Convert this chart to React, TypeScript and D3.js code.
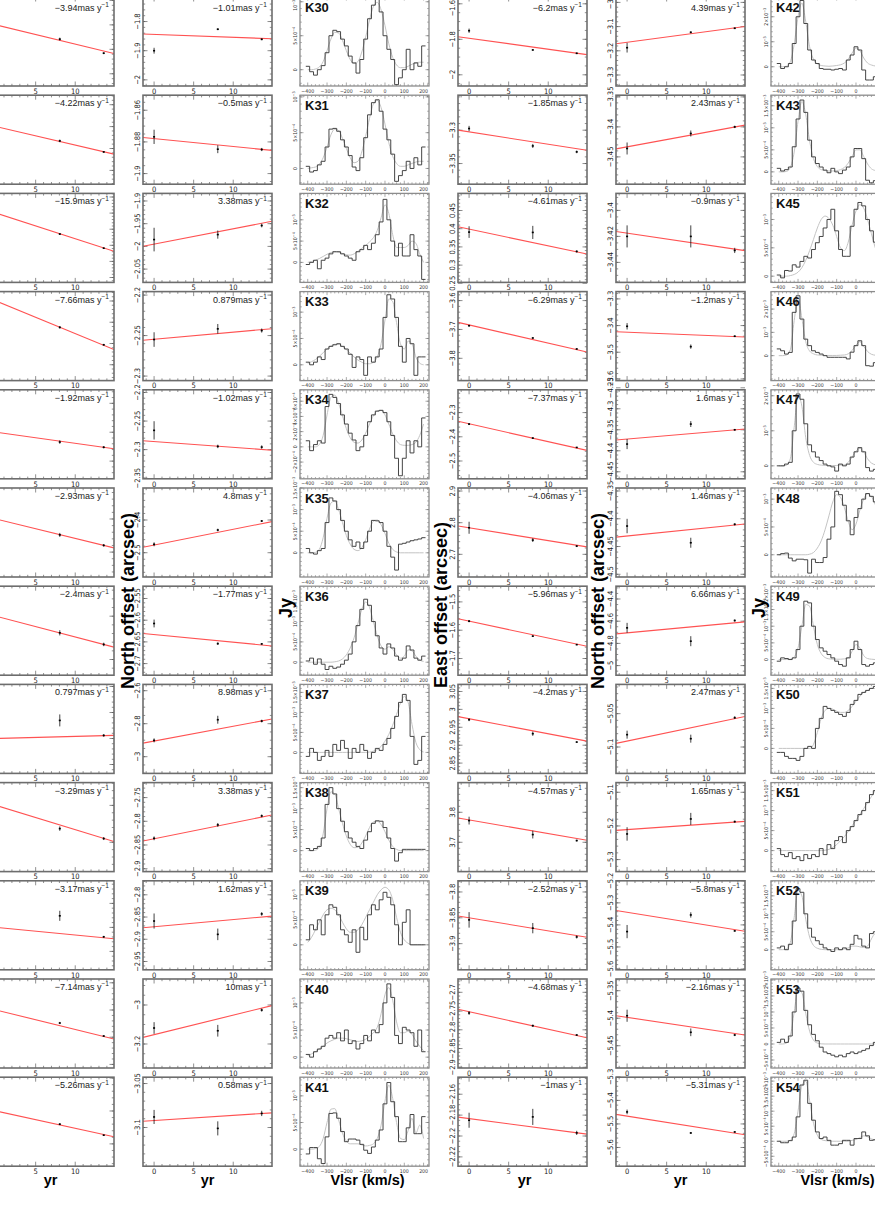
import React from "react";
import * as d3 from "d3";

const W = 875;
const H = 1218;
const PW = 129;
const PH = 89;
const colLeft = [-15, 143, 300, 458, 616, 771];
const rowTop = (i: number) => -3 + 98.2 * i;

const FONT = "'Liberation Sans', Arial, Helvetica, sans-serif";
const NARROW = "'Liberation Sans Narrow', 'DejaVu Sans Condensed', 'Liberation Sans', sans-serif";

// epochs of the three observations (yr)
const years = [0, 8.05, 13.6];
const yearDomain = [-1.4, 14.9];

// ---- East offsets, left column (arcsec) ----
const eastLeftRates = [-3.94, -4.22, -15.9, -7.66, -1.92, -2.93, -2.4, 0.797, -3.29, -3.17, -7.14, -5.26];
const eastLeftDomains = [[1.975, 2.157], [2.2685, 2.4717], [0.4696, 1.0224], [3.0127, 3.2221], [1.5194, 1.6734], [2.4124, 2.5468], [1.7319, 1.8346], [0.1658, 0.5081], [2.1102, 2.2309], [0.9233, 1.2942], [3.1868, 3.514], [2.5322, 2.8027]];
const eastLeftTicks = [[2, 2.05, 2.1, 2.15], [2.3, 2.35, 2.4, 2.45], [0.5, 0.6, 0.7, 0.8, 0.9, 1], [3.05, 3.1, 3.15, 3.2], [1.55, 1.6, 1.65], [2.45, 2.5], [1.75, 1.8], [0.2, 0.3, 0.4, 0.5], [2.15, 2.2], [1, 1.1, 1.2], [3.2, 3.3, 3.4, 3.5], [2.6, 2.7, 2.8]];
const eastLeftPoints = [[2.1, 2.0708, 2.0421], [2.4, 2.3674, 2.3422], [0.9, 0.77, 0.682], [3.2, 3.138, 3.097], [1.6, 1.583, 1.574], [2.5, 2.476, 2.4602], [1.8, 1.7808, 1.7674], [0.3, 0.3696, 0.3119], [2.2, 2.1685, 2.155], [1.1, 1.1483, 1.0608], [3.4, 3.3522, 3.3044], [2.7, 2.6599, 2.6264]];
const eastLeftErrors = [[0.004, 0.003, 0.002], [0.004, 0.003, 0.002], [0.01, 0.006, 0.005], [0.004, 0.003, 0.002], [0.004, 0.003, 0.002], [0.004, 0.003, 0.002], [0.003, 0.003, 0.002], [0.01, 0.023, 0.005], [0.003, 0.003, 0.002], [0.01, 0.021, 0.004], [0.005, 0.004, 0.003], [0.004, 0.003, 0.002]];
const eastLeftIntercepts = [2.1, 2.4, 0.9, 3.2, 1.6, 2.5, 1.8, 0.3, 2.2, 1.1, 3.4, 2.7];

// ---- North offsets, left column (arcsec) ----
const northLeftRates = [-1.01, -0.5, 3.38, 0.879, -1.02, 4.8, -1.77, 8.98, 3.38, 1.62, 10, 0.58];
const northLeftDomains = [[-2.0211, -1.7158], [-1.9067, -1.8505], [-2.0793, -1.8833], [-2.3056, -2.1957], [-2.3511, -2.1953], [-2.5743, -2.3021], [-2.7267, -2.5217], [-3.1012, -2.5618], [-2.9061, -2.7184], [-2.9687, -2.7685], [-3.3231, -2.8667], [-3.144, -3.0428]];
const northLeftTicks = [[-2, -1.9, -1.8], [-1.9, -1.88, -1.86], [-2.05, -2, -1.95, -1.9], [-2.3, -2.25, -2.2], [-2.35, -2.3, -2.25, -2.2], [-2.5, -2.4], [-2.7, -2.65, -2.6, -2.55], [-3, -2.8, -2.6], [-2.9, -2.85, -2.8, -2.75], [-2.95, -2.9, -2.85, -2.8], [-3.2, -3], [-3.1, -3.05]];
const northLeftPoints = [[-1.9, -1.8264, -1.861], [-1.8768, -1.8846, -1.8848], [-1.985, -1.974, -1.954], [-2.2549, -2.2417, -2.2438], [-2.2663, -2.2944, -2.2956], [-2.4743, -2.4306, -2.403], [-2.6076, -2.654, -2.6546], [-2.901, -2.776, -2.784], [-2.8359, -2.8076, -2.7886], [-2.859, -2.889, -2.843], [-3.118, -3.132, -3.026], [-3.088, -3.101, -3.084]];
const northLeftErrors = [[0.01, 0.003, 0.003], [0.0045, 0.0025, 0.001], [0.026, 0.009, 0.004], [0.009, 0.006, 0.0025], [0.016, 0.003, 0.003], [0.006, 0.004, 0.003], [0.009, 0.003, 0.002], [0.012, 0.024, 0.008], [0.004, 0.004, 0.003], [0.017, 0.013, 0.004], [0.03, 0.03, 0.008], [0.008, 0.008, 0.003]];
const northLeftIntercepts = [-1.844, -1.8779, -1.995, -2.2546, -2.2858, -2.4765, -2.633, -2.905, -2.837, -2.872, -3.152, -3.092];

// ---- East offsets, right column (arcsec) ----
const eastRightRates = [-6.2, -1.85, -4.61, -6.29, -7.37, -4.06, -5.96, -4.2, -4.57, -2.52, -4.68, -1];
const eastRightDomains = [[-2.0631, -1.5617], [-3.381, -3.2475], [0.2525, 0.497], [-3.8773, -3.5688], [-2.5736, -2.2058], [2.6284, 2.9096], [-1.759, -1.4445], [2.8212, 3.0698], [3.6023, 3.899], [-3.9506, -3.7784], [-2.9019, -2.6645], [-2.2289, -2.1437]];
const eastRightTicks = [[-2, -1.8, -1.6], [-3.35, -3.3], [0.25, 0.3, 0.35, 0.4, 0.45], [-3.8, -3.7, -3.6], [-2.5, -2.4, -2.3], [2.7, 2.8, 2.9], [-1.7, -1.6, -1.5], [2.85, 2.9, 2.95, 3, 3.05], [3.7, 3.8], [-3.9, -3.85, -3.8], [-2.9, -2.85, -2.8, -2.75, -2.7], [-2.22, -2.2, -2.18, -2.16]];
const eastRightPoints = [[-1.7516, -1.86, -1.879], [-3.2975, -3.3236, -3.3325], [0.3907, 0.3898, 0.3376], [-3.687, -3.7296, -3.7676], [-2.3475, -2.4054, -2.444], [2.784, 2.745, 2.726], [-1.568, -1.621, -1.651], [2.9712, 2.9321, 2.9087], [3.7723, 3.7257, 3.7057], [-3.854, -3.87, -3.887], [-2.7552, -2.7891, -2.8139], [-2.1849, -2.1817, -2.197]];
const eastRightErrors = [[0.012, 0.004, 0.004], [0.004, 0.003, 0.002], [0.016, 0.018, 0.003], [0.003, 0.003, 0.002], [0.004, 0.003, 0.002], [0.019, 0.006, 0.003], [0.004, 0.003, 0.002], [0.004, 0.006, 0.002], [0.013, 0.013, 0.003], [0.015, 0.01, 0.003], [0.005, 0.003, 0.002], [0.0072, 0.0077, 0.002]];
const eastRightIntercepts = [-1.794, -3.3025, 0.399, -3.6844, -2.3463, 2.784, -1.568, 2.974, 3.7747, -3.85, -2.7517, -2.1833];

// ---- North offsets, right column (arcsec) ----
const northRightRates = [4.39, 2.43, -0.9, -1.2, 1.6, 1.46, 6.66, 2.47, 1.65, -5.8, -2.16, -5.31];
const northRightDomains = [[-3.3455, -2.9777], [-3.4955, -3.3472], [-3.4554, -3.3869], [-3.6064, -3.2726], [-4.4667, -4.2548], [-4.5049, -4.3446], [-5.0865, -4.2847], [-5.1396, -5.0061], [-5.3357, -5.0712], [-5.6036, -5.2], [-5.4905, -5.3287], [-5.6796, -5.3013]];
const northRightTicks = [[-3.3, -3.2, -3.1, -3], [-3.45, -3.4, -3.35], [-3.44, -3.42, -3.4], [-3.6, -3.5, -3.4, -3.3], [-4.45, -4.4, -4.35, -4.3, -4.25], [-4.5, -4.45, -4.4, -4.35], [-5, -4.8, -4.6, -4.4], [-5.1, -5.05], [-5.3, -5.2, -5.1], [-5.6, -5.5, -5.4, -5.3, -5.2], [-5.45, -5.4, -5.35], [-5.6, -5.5, -5.4, -5.3]];
const northRightPoints = [[-3.1872, -3.1236, -3.107], [-3.436, -3.411, -3.4], [-3.42, -3.42, -3.4308], [-3.4027, -3.479, -3.44], [-4.384, -4.3364, -4.35], [-4.4131, -4.4432, -4.41], [-4.66, -4.78, -4.594], [-5.0815, -5.0875, -5.056], [-5.2238, -5.1792, -5.1872], [-5.4303, -5.3548, -5.4271], [-5.3955, -5.4256, -5.4305], [-5.4489, -5.5383, -5.534]];
const northRightErrors = [[0.02, 0.004, 0.003], [0.01, 0.005, 0.002], [0.0085, 0.0085, 0.002], [0.012, 0.008, 0.003], [0.012, 0.007, 0.002], [0.013, 0.009, 0.002], [0.045, 0.045, 0.01], [0.006, 0.006, 0.002], [0.02, 0.018, 0.003], [0.03, 0.012, 0.003], [0.011, 0.007, 0.002], [0.01, 0.004, 0.003]];
const northRightIntercepts = [-3.1649, -3.4333, -3.4175, -3.425, -4.3721, -4.4311, -4.705, -5.0911, -5.211, -5.3425, -5.3984, -5.4668];

// ---- spectra: channel velocities (km/s), flux in units of 1e-4 Jy ----
const vlsr = [-400, -380, -360, -340, -320, -300, -280, -260, -240, -220, -200, -180, -160, -140, -120, -100, -80, -60, -40, -20, 0, 20, 40, 60, 80, 100, 120, 140, 160, 180, 200];
const vlsrDomain = [-440, 228];
const vlsrTicks = [-400, -300, -200, -100, 0, 100, 200];

const specLeftNames = ["K30", "K31", "K32", "K33", "K34", "K35", "K36", "K37", "K38", "K39", "K40", "K41"];
const specLeftDomains = [[-2.4, 10.7], [-2.2, 10.24], [-4.7, 16.2], [-3.0, 13.9], [-4.2, 7.5], [-5.6, 15], [-3.2, 18.7], [-5.25, 17], [-5, 16.2], [-5, 12.8], [-2.0, 14.4], [-3.2, 13.5]];
const specLeftTicks = [[0, 5, 10], [0, 5, 10], [0, 5, 10], [0, 5, 10], [-2, 0, 2, 4, 6], [0, 5, 10, 15], [0, 5, 10, 15], [0, 5, 10, 15], [0, 5, 10, 15], [0, 5, 10], [0, 5, 10], [0, 5, 10]];
const specLeftHist = [
  [0.5, -0.3, -0.8, 0, 0.6, 2.5, 5.0, 5.8, 5.6, 4.5, 3.5, 2.0, 1.0, -0.5, 1.5, 4.5, 7.5, 9.5, 10.5, 8.5, 5.0, 3.0, 1.5, -2.2, -1.2, 0.0, 3.0, 0.0, 1.0, 0.5, 3.5],
  [0.3, -0.5, -0.3, 0.5, 1.0, 3.0, 5.5, 5.6, 5.2, 4.0, 3.0, 1.8, 0.2, -0.3, 1.5, 4.3, 7.5, 9.2, 9.6, 8.0, 5.5, 4.0, 2.0, -1.8, -1.0, -0.3, 1.0, 0.0, 1.5, 0.5, 3.0],
  [-0.5, 0, 0.5, -1.5, 0.5, 1.0, 2.0, 2.5, 2.5, 2.0, 1.5, 1.0, 0.5, 2.5, 3.0, 4.0, 3.0, 4.5, 6.5, 9.5, 14.8, 10.0, 5.0, 1.5, 4.5, 1.5, 1.5, 6.5, 3.0, 1.5, -4.0],
  [0.5, 0, 0.5, 1.5, 1.0, 3.0, 3.5, 3.8, 4.0, 3.5, 3.0, 2.0, -0.5, 1.5, 1.0, -2.0, 1.5, 0.5, 1.5, 3.0, 9.0, 13.3, 12.5, 9.0, 3.5, 0.5, 5.0, 4.0, -2.0, 1.5, 1.5],
  [0.8, -0.5, 0.3, 0.8, 0.5, 5.3, 6.9, 6.5, 5.7, 4.2, 3.0, 1.8, 0.9, -0.5, 0.0, 1.5, 3.3, 4.2, 4.7, 4.8, 4.5, 3.3, 1.5, -1.5, -3.8, -1.5, 0.8, -0.8, 0.8, 0.0, 3.8],
  [1.0, 0, -0.3, 0.5, 1.0, 7.0, 12.7, 12.0, 10.0, 7.5, 5.0, 3.0, 1.5, 2.5, 1.0, 2.5, 5.0, 7.5, 7.4, 7.0, 5.0, 1.5, -1.0, -4.0, 2.0, 2.2, 2.5, 2.8, 3.0, 3.2, 3.5],
  [0.3, 1.0, -0.5, 0.8, -0.5, -1.8, -1.0, -1.5, -1.2, -0.5, 0.5, 2.0, 5.0, 9.0, 13.0, 15.5, 14.0, 10.0, 6.5, 3.5, 2.0, 4.5, 3.5, 1.5, 0.5, 1.0, 4.0, 3.0, 1.0, 0.5, 1.5],
  [-1.0, 1.0, 0, -2.0, -1.0, 0.5, -1.0, 2.0, 0.5, 3.0, 1.0, -1.5, 1.0, 0, 2.0, 0.5, -1.5, 0, 1.0, 0.5, 2.0, 3.5, 6.0, 9.0, 12.5, 14.5, 13.0, 4.0, -3.0, -2.0, 4.0],
  [0.5, 0, 0.5, 1.0, 3.0, 11.0, 15.0, 13.5, 10.0, 7.0, 4.5, 3.0, 2.0, 1.0, 0.5, 2.5, 4.5, 6.5, 7.1, 7.0, 5.5, 3.0, 0.5, -2.5, -0.5, 0.3, 0.3, 0.3, 0.3, 0.3, 0.3],
  [1.0, 4.0, 3.0, 5.0, 2.0, 6.0, 8.0, 7.5, 6.0, 3.0, 2.0, 0.5, 3.0, -1.5, 3.5, 1.0, 6.0, 8.0, 7.0, 9.0, 10.5, 9.5, 8.0, 4.0, 0, 4.5, 7.0, 0.0, 0.0, 0.0, 0.0],
  [0.5, 0.0, 1.0, 1.5, 2.0, 3.5, 4.0, 3.5, 4.5, 3.0, 5.0, 2.5, 3.0, 1.5, 2.5, 4.0, 3.0, 5.0, 4.5, 6.0, 10.0, 13.5, 11.0, 4.0, 2.5, 5.5, 5.0, 4.5, 2.0, 5.0, 1.0],
  [-0.9, 0.3, 0.3, -1.8, -2.7, 2.3, 6.7, 6.8, 5.8, 3.3, 1.4, 1.9, 1.9, 1.7, 0.9, -0.2, -0.8, 0.4, 1.7, 3.6, 8.5, 12.5, 8.9, 6.1, 1.4, 1.4, 4.0, 6.5, 2.9, 2.9, 6.1],
];
const specLeftFit = [
  [0, 0, 0.1, 0.4, 1.2, 2.8, 4.5, 5.5, 5.4, 4.3, 2.8, 1.5, 0.9, 1.2, 2.6, 4.8, 7.3, 9.3, 9.9, 8.8, 6.5, 3.8, 1.8, 0.7, 0.3, 0.3, 0.5, 0.8, 1.0, 1.1, 1.1],
  [0, 0.1, 0.2, 0.6, 1.5, 3.0, 4.7, 5.5, 5.3, 4.2, 2.8, 1.5, 0.8, 1.0, 2.3, 4.5, 7.0, 9.0, 9.5, 8.5, 6.2, 3.6, 1.7, 0.7, 0.3, 0.3, 0.5, 0.7, 0.9, 1.0, 1.0],
  [0, 0.2, 0.5, 0.9, 1.4, 1.9, 2.3, 2.5, 2.4, 2.1, 1.8, 1.7, 2.0, 2.6, 3.3, 4.0, 4.8, 5.8, 7.5, 10.5, 13.5, 11.5, 6.5, 3.5, 3.5, 3.5, 4.0, 5.0, 4.5, 2.0, 0.0],
  [0.3, 0.6, 1.0, 1.6, 2.3, 3.0, 3.6, 3.9, 3.9, 3.5, 2.9, 2.2, 1.5, 0.9, 0.5, 0.2, 0.2, 0.5, 1.5, 4.0, 8.5, 12.5, 12.0, 8.0, 4.0, 3.0, 4.5, 4.0, 1.5, 0.3, 0],
  [0, 0, 0, 0.3, 1.5, 4.2, 6.5, 6.8, 5.7, 4.1, 2.4, 1.2, 0.6, 0.5, 0.9, 1.8, 3.0, 4.1, 4.7, 4.8, 4.2, 3.0, 1.7, 0.8, 0.3, 0.2, 0.2, 0.3, 0.6, 1.5, 3.0],
  [0, 0, 0.1, 0.8, 3.5, 8.0, 11.5, 12.0, 10.0, 7.0, 4.0, 2.0, 0.8, 0.5, 1.2, 3.0, 5.5, 7.3, 7.6, 6.5, 4.5, 2.2, 0.8, 0.2, 0, 0, 0, 0, 0, 0, 0],
  [0, 0, 0, 0, 0, 0, 0, 0.1, 0.3, 0.8, 1.8, 3.5, 6.0, 9.5, 13.0, 14.8, 13.5, 10.0, 6.5, 4.0, 3.2, 3.8, 3.2, 1.8, 1.0, 1.5, 3.0, 2.8, 1.5, 0.5, 0.2],
  [0, 0, 0, 0, 0, 0, 0, 0, 0, 0, 0, 0, 0, 0, 0, 0, 0.1, 0.3, 0.7, 1.5, 2.8, 4.5, 6.8, 9.5, 12.3, 14.0, 12.5, 7.0, 2.5, 0.7, 0.1],
  [0, 0, 0.1, 0.8, 4.0, 10.0, 14.0, 13.5, 10.0, 6.5, 3.5, 1.5, 0.7, 0.8, 1.8, 3.5, 5.5, 6.8, 7.0, 6.2, 4.5, 2.5, 1.0, 0.3, 0, 0, 0, 0, 0, 0, 0],
  [0.5, 1.5, 3.0, 4.5, 6.0, 7.0, 7.3, 7.0, 6.0, 4.5, 3.2, 2.5, 2.5, 3.0, 4.0, 5.5, 7.0, 8.5, 10.0, 11.0, 11.5, 11.0, 9.0, 5.5, 2.5, 1.0, 0.3, 0, 0, 0, 0],
  [0.3, 0.6, 1.0, 1.5, 2.0, 2.6, 3.0, 3.3, 3.5, 3.5, 3.4, 3.2, 3.0, 2.9, 3.0, 3.3, 3.8, 4.5, 5.5, 8.0, 11.5, 12.8, 10.5, 6.5, 4.5, 4.5, 4.8, 4.2, 3.0, 2.0, 1.2],
  [0, 0, 0.1, 0.5, 2.0, 5.0, 7.5, 7.6, 5.5, 3.0, 1.5, 1.0, 1.0, 1.0, 0.8, 0.6, 0.7, 1.0, 2.0, 4.5, 9.0, 12.0, 9.5, 5.0, 2.0, 1.8, 3.5, 5.8, 3.0, 4.5, 2.0],
];

const specRightNames = ["K42", "K43", "K45", "K46", "K47", "K48", "K49", "K50", "K51", "K52", "K53", "K54"];
const specRightDomains = [[-7.7, 27.9], [-2.8, 17.4], [-1.1, 14.6], [-10.7, 27.5], [-3.7, 21.7], [-4, 12], [-4.7, 22], [-6.25, 16], [-5.25, 17], [-5.6, 19.2], [-7.5, 20.3], [-8.3, 21.3]];
const specRightTicks = [[0, 10, 20], [0, 5, 10, 15], [0, 5, 10], [0, 10, 20], [0, 10, 20], [0, 5, 10], [0, 5, 10, 15, 20], [0, 5, 10, 15], [0, 5, 10, 15], [0, 5, 10, 15], [-5, 0, 5, 10, 15, 20], [-5, 0, 5, 10, 15, 20]];
const specRightHist = [
  [1.3, -0.7, 0, 1.3, 9.3, 20, 26.5, 17.3, 6.7, 2.7, 1.3, -0.7, -1.0, -1.0, -1.3, -1.0, -0.7, -1.3, 2.7, 4.7, 8.0, 6.7, -1.3, -5.3, -5.3, -4.0, -3.0, -2.0, -1.0, 0.0, 0.5],
  [0.8, 0.2, 0.5, 1.1, 5.7, 12.0, 16.3, 13.5, 7.2, 3.4, 1.9, 1.1, 0.4, -0.2, 0.8, 0.0, -0.4, 0.4, 1.1, 3.4, 5.3, 5.3, 3.0, -1.9, -2.5, -2.0, -1.5, -1.0, -0.5, 0.0, 0.3],
  [0.2, -0.3, 1.0, 0.9, 2.0, 1.6, 2.6, 3.5, 3.2, 4.7, 5.9, 7.0, 8.5, 10.0, 11.8, 8.0, 4.7, 3.5, 3.5, 8.8, 11.8, 13.0, 12.4, 10.0, 8.0, 6.0, 4.0, 3.0, 2.0, 1.5, 1.0],
  [2.9, 2.1, 0.7, 1.4, 18.6, 25.7, 15.7, 7.1, 4.3, 2.1, 1.4, 0.7, 0.0, -0.7, -0.7, -0.7, -0.7, -0.7, -1.4, 1.5, 4.3, 6.4, 4.3, -4.3, -4.5, -3.0, -2.0, -1.0, 0.0, 0.5, 0.0],
  [0, 0, 0.5, 1.0, 10.0, 20.5, 19.0, 12.0, 6.0, 4.0, 2.5, 1.5, 0.5, 0.0, -0.3, -1.5, 0.5, 0.0, 0.5, 2.5, 4.0, 5.2, 4.0, -0.5, -1.5, -1.0, -0.5, 0, 0, 0, 0],
  [0, 0.2, 0.3, -0.6, -1.1, -0.8, -0.8, -0.9, -3.3, -0.8, -1.4, -1.4, -0.5, 2.8, 5.0, 11.4, 10.8, 8.9, 6.1, 3.6, 6.7, 8.3, 10.0, 11.0, 10.5, 9.5, 8.0, 6.0, 4.0, 2.0, 1.0],
  [-0.5, 0.5, 0.3, 0.0, 0.5, 3.0, 10.0, 17.5, 17.0, 10.0, 6.0, 3.5, 2.5, 1.5, 0.5, -0.5, -1.5, -2.0, 0.5, 3.0, 5.5, 3.0, -1.5, -2.0, -1.5, -1.0, 0, 0, 0, 0, 0],
  [-1.0, -1.0, -2.0, -2.5, -2.5, -3.0, -2.0, 0, 0.5, 0, 5.0, 7.5, 10.5, 10.0, 9.5, 9.0, 8.5, 8.0, 9.0, 11.0, 12.0, 13.5, 14.0, 14.5, 15.0, 15.5, 15.0, 14.0, 13.0, 12.0, 11.0],
  [0.5, -1.0, -1.5, -0.5, -2.0, -1.5, -2.5, -1.0, -2.0, -1.0, -1.5, 0.5, -1.0, 1.5, 0.5, 2.5, 3.5, 2.0, 5.0, 6.0, 7.5, 9.0, 10.0, 12.0, 14.0, 15.0, 15.5, 15.0, 14.0, 13.0, 12.0],
  [0.5, 1.0, 0.0, 1.5, 8.0, 17.0, 16.0, 10.0, 6.0, 3.5, 2.5, 1.5, 0.5, 0.0, -0.5, 0.5, 0.0, 0.5, 0.0, 1.5, 4.0, 3.0, 1.0, 0.5, 4.5, 5.0, 4.0, 3.0, 2.0, 1.0, 0.5],
  [0.5, 1.5, 0.5, 2.5, 10.0, 17.5, 16.5, 10.5, 6.0, 3.0, 1.0, -1.0, -2.5, -3.0, -3.5, -4.0, -3.5, -4.0, -3.0, -2.5, -3.0, -2.5, -2.0, -1.5, -0.5, 0.5, 0.5, 0, 0, 0, 0],
  [0, -0.5, -0.5, 0.2, 1.4, 8.1, 18.7, 20.3, 12.6, 7.0, 3.1, 0.9, 1.4, 0.3, -1.3, -1.3, -0.8, 0.3, 0.3, -1.3, 0.9, 0.9, 3.1, 1.8, 0.3, 0.5, 0, 0, 0, 0, 0],
];
const specRightFit = [
  [0, 0, 0.2, 2.0, 9.0, 20, 25.5, 18, 8, 3, 1.2, 0.5, 0.3, 0.2, 0.3, 0.5, 0.8, 1.5, 3.0, 5.5, 7.5, 6.5, 3.5, 1.5, 0.7, 0.3, 0.1, 0, 0, 0, 0],
  [0, 0, 0.1, 1.0, 4.5, 11.5, 16.0, 13.0, 7.0, 3.0, 1.2, 0.5, 0.3, 0.2, 0.2, 0.3, 0.5, 1.0, 2.0, 3.5, 5.0, 5.0, 3.5, 1.8, 0.7, 0.3, 0.1, 0, 0, 0, 0],
  [0, 0, 0, 0.1, 0.3, 0.7, 1.5, 2.8, 4.5, 6.5, 8.5, 10.0, 10.6, 10.2, 9.0, 7.0, 5.0, 4.5, 6.0, 9.0, 11.5, 12.6, 12.0, 10.0, 7.5, 5.0, 3.0, 1.5, 0.7, 0.3, 0.1],
  [0, 0, 0.3, 2.5, 15.0, 25.0, 16.0, 6.0, 2.0, 0.8, 0.3, 0.2, 0.1, 0.1, 0.1, 0.1, 0.2, 0.3, 0.8, 2.2, 4.5, 6.0, 4.0, 1.8, 0.6, 0.2, 0, 0, 0, 0, 0],
  [0, 0, 0.2, 2.0, 11.0, 20.0, 17.0, 8.0, 3.0, 1.0, 0.4, 0.2, 0.1, 0.1, 0.1, 0.1, 0.2, 0.3, 1.0, 2.5, 4.2, 5.0, 4.0, 2.0, 0.8, 0.3, 0.1, 0, 0, 0, 0],
  [0, 0, 0, 0, 0, 0, 0, 0, 0.1, 0.4, 1.2, 2.5, 4.5, 7.0, 9.5, 10.8, 10.3, 8.5, 6.0, 4.5, 5.5, 8.0, 10.0, 11.0, 10.5, 9.0, 7.0, 5.0, 3.0, 1.5, 0.7],
  [0, 0, 0, 0.1, 0.8, 3.5, 10.0, 16.5, 16.0, 10.0, 4.5, 1.8, 0.6, 0.2, 0.1, 0.1, 0.1, 0.2, 0.5, 2.5, 4.5, 3.5, 1.2, 0.3, 0.1, 0, 0, 0, 0, 0, 0],
  [0, 0, 0, 0, 0, 0, 0, 0, 0, 1.0, 4.0, 7.5, 9.5, 10.0, 9.8, 9.3, 9.0, 9.0, 9.5, 10.5, 11.8, 13.0, 14.0, 14.5, 15.0, 15.0, 14.5, 13.5, 12.5, 11.5, 10.5],
  [0, 0, 0, 0, 0, 0, 0, 0, 0, 0, 0, 0, 0.1, 0.3, 0.8, 1.5, 2.5, 3.5, 4.8, 6.2, 7.6, 9.0, 10.5, 12.0, 13.5, 15.0, 15.5, 15.0, 14.0, 13.0, 12.0],
  [0, 0, 0.2, 2.0, 9.0, 16.5, 15.0, 8.5, 3.5, 1.2, 0.4, 0.1, 0, 0, 0, 0, 0, 0.2, 0.5, 1.0, 1.0, 0.8, 0.6, 1.0, 3.0, 4.5, 4.0, 2.5, 1.2, 0.5, 0.2],
  [0, 0, 0.3, 2.5, 10.0, 17.0, 16.0, 9.5, 4.0, 1.2, 0.3, 0.05, 0, 0, 0, 0, 0, 0, 0, 0, 0, 0, 0, 0, 0, 0, 0, 0, 0, 0, 0],
  [0, 0, 0, 0.3, 2.5, 10.0, 18.5, 20.0, 13.5, 6.0, 2.0, 0.6, 0.2, 0.1, 0, 0, 0, 0, 0, 0.3, 0.6, 1.2, 1.8, 1.5, 0.8, 0.3, 0, 0, 0, 0, 0],
];

const minus = (s: string) => s.replace("-", "\u2212");

function minorStep(ticks: number[], domain: number[]) {
  const s = [...ticks].sort((a, b) => a - b);
  const step = s.length > 1 ? s[1] - s[0] : (domain[1] - domain[0]) / 4;
  const mag = Math.pow(10, Math.floor(Math.log10(step) + 1e-9));
  const lead = Math.round(step / mag);
  return step / (lead === 2 ? 4 : 5);
}

function minorTicks(domain: number[], sub: number) {
  return d3
    .range(Math.ceil(domain[0] / sub - 1e-6), Math.floor(domain[1] / sub + 1e-6) + 1)
    .map((i) => i * sub);
}

// a label is drawn only if it fits inside the page
const onPage = (px: number, half: number) => px - half >= 0 && px + half <= W;
// keep a rotated label's centre far enough from the top/bottom page edges
const keepIn = (py: number, half: number) => Math.min(Math.max(py, half + 0.5), H - half - 0.5);

function TimePanel({ id, left, top, domain, ticks, pts, errs, intercept, rate }: any) {
  const x = d3.scaleLinear().domain(yearDomain).range([left, left + PW]);
  const y = d3.scaleLinear().domain(domain).range([top + PH, top]);
  const sub = minorStep(ticks, domain);
  const minY = minorTicks(domain, sub);
  const minX = d3.range(-1, 15);
  const majX = [0, 5, 10];
  const fit = d3
    .line<number>()
    .x((t) => x(t))
    .y((t) => y(intercept + (rate / 1000) * t));
  const rateText = (rate < 0 ? "\u2212" : "") + String(Math.abs(rate)) + "mas y";
  const tc = "#444";
  const showY = left - 8 >= 0;
  return (
    <g>
      <defs>
        <clipPath id={id}>
          <rect x={left} y={top} width={PW} height={PH} />
        </clipPath>
      </defs>
      <rect x={left} y={top} width={PW} height={PH} fill="#fff" />
      <g stroke={tc} strokeWidth={0.6}>
        {minX.map((t) => {
          const L = majX.includes(t) ? 4.5 : 2.2;
          return (
            <g key={"x" + t}>
              <line x1={x(t)} x2={x(t)} y1={top + PH} y2={top + PH - L} />
              <line x1={x(t)} x2={x(t)} y1={top} y2={top + L} />
            </g>
          );
        })}
        {minY.map((v, i) => (
          <g key={"ym" + i}>
            <line x1={left} x2={left + 2.2} y1={y(v)} y2={y(v)} />
            <line x1={left + PW} x2={left + PW - 2.2} y1={y(v)} y2={y(v)} />
          </g>
        ))}
        {ticks.map((v: number, i: number) => (
          <g key={"yM" + i}>
            <line x1={left} x2={left + 4.5} y1={y(v)} y2={y(v)} />
            <line x1={left + PW} x2={left + PW - 4.5} y1={y(v)} y2={y(v)} />
          </g>
        ))}
      </g>
      <g clipPath={`url(#${id})`}>
        <path d={fit(yearDomain) || ""} fill="none" stroke="#ff5252" strokeWidth={1.1} />
        {years.map((t, i) => (
          <g key={"p" + i}>
            <line x1={x(t)} x2={x(t)} y1={y(pts[i] - errs[i])} y2={y(pts[i] + errs[i])} stroke="#111" strokeWidth={0.8} />
            <rect x={x(t) - 1} y={y(pts[i]) - 0.8} width={2} height={1.6} fill="#000" />
          </g>
        ))}
      </g>
      <rect x={left} y={top} width={PW} height={PH} fill="none" stroke="#6d6d6d" strokeWidth={1.6} />
      <g fontFamily={NARROW} fontSize={7.5} fill="#222" textAnchor="middle">
        {majX
          .filter((t) => onPage(x(t), 5))
          .map((t) => (
            <text key={"lx" + t} x={x(t)} y={top + PH + 7.8}>
              {t}
            </text>
          ))}
        {showY &&
          ticks.map((v: number, i: number) => {
            const s = minus(String(v));
            const cy = keepIn(y(v), s.length * 1.9);
            return (
              <text key={"ly" + i} transform={`translate(${left - 3.2},${cy}) rotate(-90)`}>
                {s}
              </text>
            );
          })}
      </g>
      <text x={left + PW - 5} y={Math.max(top + 11, 10.5)} textAnchor="end" fontFamily={FONT} fontSize={9} fill="#1a1a1a">
        {rateText}
        <tspan dy={-3.6} fontSize={6.5}>
          {"\u22121"}
        </tspan>
      </text>
    </g>
  );
}

function jyLabel(v: number) {
  if (v === 0) return { base: "0", exp: "" };
  const sign = v < 0 ? "\u2212" : "";
  const a = Math.abs(v);
  if (a >= 10) {
    const m = a / 10;
    return { base: sign + (m === 1 ? "" : m + "\u00d7") + "10", exp: "\u22123" };
  }
  return { base: sign + a + "\u00d710", exp: "\u22124" };
}

function SpecPanel({ id, left, top, name, hist, fit, domain, ticks }: any) {
  const x = d3.scaleLinear().domain(vlsrDomain).range([left, left + PW]);
  const y = d3.scaleLinear().domain(domain).range([top + PH, top]);
  const edges: [number, number][] = vlsr.map((v, i) => [v - 10, hist[i]]);
  edges.push([vlsr[vlsr.length - 1] + 10, hist[hist.length - 1]]);
  const histPath = d3
    .line<[number, number]>()
    .x((d) => x(d[0]))
    .y((d) => y(d[1]))
    .curve(d3.curveStepAfter)(edges);
  const fitPath = d3
    .line<[number, number]>()
    .x((d) => x(d[0]))
    .y((d) => y(d[1]))
    .curve(d3.curveMonotoneX)(vlsr.map((v, i) => [v, fit[i]] as [number, number]));
  const sub = minorStep(ticks, domain);
  const minY = minorTicks(domain, sub);
  const minX = d3.range(-440, 229, 20).filter((v) => v >= vlsrDomain[0]);
  const tc = "#555";
  return (
    <g>
      <defs>
        <clipPath id={id}>
          <rect x={left} y={top} width={PW} height={PH} />
        </clipPath>
      </defs>
      <rect x={left} y={top} width={PW} height={PH} fill="#fff" />
      <g stroke={tc} strokeWidth={0.5}>
        {minX.map((v) => {
          const L = v % 100 === 0 ? 3.5 : 1.8;
          return (
            <g key={"x" + v}>
              <line x1={x(v)} x2={x(v)} y1={top + PH} y2={top + PH - L} />
              <line x1={x(v)} x2={x(v)} y1={top} y2={top + L} />
            </g>
          );
        })}
        {minY.map((v, i) => (
          <g key={"ym" + i}>
            <line x1={left} x2={left + 1.8} y1={y(v)} y2={y(v)} />
            <line x1={left + PW} x2={left + PW - 1.8} y1={y(v)} y2={y(v)} />
          </g>
        ))}
        {ticks.map((v: number, i: number) => (
          <g key={"yM" + i}>
            <line x1={left} x2={left + 3.5} y1={y(v)} y2={y(v)} />
            <line x1={left + PW} x2={left + PW - 3.5} y1={y(v)} y2={y(v)} />
          </g>
        ))}
      </g>
      <g clipPath={`url(#${id})`}>
        <path d={fitPath || ""} fill="none" stroke="#c4c4c4" strokeWidth={1} />
        <path d={histPath || ""} fill="none" stroke="#3c3c3c" strokeWidth={0.95} />
      </g>
      <rect x={left} y={top} width={PW} height={PH} fill="none" stroke="#8c8c8c" strokeWidth={1.3} />
      <g fontFamily={NARROW} fontSize={5.2} fill="#333" textAnchor="middle">
        {vlsrTicks
          .filter((v) => onPage(x(v), 6))
          .map((v) => (
            <text key={"lx" + v} x={x(v)} y={top + PH + 6.5}>
              {minus(String(v))}
            </text>
          ))}
        {ticks.map((v: number, i: number) => {
          const lb = jyLabel(v);
          const half = (lb.base.length + lb.exp.length * 0.7) * 1.4;
          const cy = keepIn(y(v), half);
          return (
            <text key={"ly" + i} transform={`translate(${left - 3.5},${cy}) rotate(-90)`}>
              {lb.base}
              {lb.exp && (
                <tspan dy={-2} fontSize={3.8}>
                  {lb.exp}
                </tspan>
              )}
            </text>
          );
        })}
      </g>
      <text x={left + 5} y={top + 14.5} fontFamily={FONT} fontWeight="bold" fontSize={13} fill="#111">
        {name}
      </text>
    </g>
  );
}

export default function App() {
  const rows = d3.range(12);
  const timeCols = [
    { c: 0, key: "ea", rates: eastLeftRates, domains: eastLeftDomains, ticks: eastLeftTicks, pts: eastLeftPoints, errs: eastLeftErrors, ints: eastLeftIntercepts },
    { c: 1, key: "nb", rates: northLeftRates, domains: northLeftDomains, ticks: northLeftTicks, pts: northLeftPoints, errs: northLeftErrors, ints: northLeftIntercepts },
    { c: 3, key: "ed", rates: eastRightRates, domains: eastRightDomains, ticks: eastRightTicks, pts: eastRightPoints, errs: eastRightErrors, ints: eastRightIntercepts },
    { c: 4, key: "ne", rates: northRightRates, domains: northRightDomains, ticks: northRightTicks, pts: northRightPoints, errs: northRightErrors, ints: northRightIntercepts },
  ];
  const specCols = [
    { c: 2, key: "sc", names: specLeftNames, hist: specLeftHist, fit: specLeftFit, domains: specLeftDomains, ticks: specLeftTicks },
    { c: 5, key: "sf", names: specRightNames, hist: specRightHist, fit: specRightFit, domains: specRightDomains, ticks: specRightTicks },
  ];
  const title = { fontFamily: FONT, fontWeight: "bold" as const, fill: "#000" };
  const bottomY = 1185;
  return (
    <svg
      width={W}
      height={H}
      viewBox={`0 0 ${W} ${H}`}
      style={{ position: "absolute", left: 0, top: 0, display: "block", background: "#fff" }}
    >
      <rect x={0} y={0} width={W} height={H} fill="#fff" />
      {timeCols.map((col) =>
        rows.map((r) => (
          <TimePanel
            key={col.key + r}
            id={col.key + r}
            left={colLeft[col.c]}
            top={rowTop(r)}
            domain={col.domains[r]}
            ticks={col.ticks[r]}
            pts={col.pts[r]}
            errs={col.errs[r]}
            intercept={col.ints[r]}
            rate={col.rates[r]}
          />
        ))
      )}
      {specCols.map((col) =>
        rows.map((r) => (
          <SpecPanel
            key={col.key + r}
            id={col.key + r}
            left={colLeft[col.c]}
            top={rowTop(r)}
            name={col.names[r]}
            hist={col.hist[r]}
            fit={col.fit[r]}
            domain={col.domains[r]}
            ticks={col.ticks[r]}
          />
        ))
      )}
      <g {...title} fontSize={18} textAnchor="middle">
        <text transform={`translate(${colLeft[1] - 9},601) rotate(-90)`}>North offset (arcsec)</text>
        <text transform={`translate(${colLeft[2] - 8},608) rotate(-90)`}>Jy</text>
        <text transform={`translate(${colLeft[3] - 11},605) rotate(-90)`}>East offset (arcsec)</text>
        <text transform={`translate(${colLeft[4] - 12},601) rotate(-90)`}>North offset (arcsec)</text>
        <text transform={`translate(${colLeft[5] - 6},608) rotate(-90)`}>Jy</text>
      </g>
      <g {...title} fontSize={14.5} textAnchor="middle">
        <text x={colLeft[0] + PW / 2 + 1} y={bottomY}>yr</text>
        <text x={colLeft[1] + PW / 2} y={bottomY}>yr</text>
        <text x={colLeft[2] + PW / 2 + 3} y={bottomY}>Vlsr (km/s)</text>
        <text x={colLeft[3] + PW / 2 + 2} y={bottomY}>yr</text>
        <text x={colLeft[4] + PW / 2} y={bottomY}>yr</text>
        <text x={colLeft[5] + PW / 2 + 2} y={bottomY}>Vlsr (km/s)</text>
      </g>
    </svg>
  );
}
